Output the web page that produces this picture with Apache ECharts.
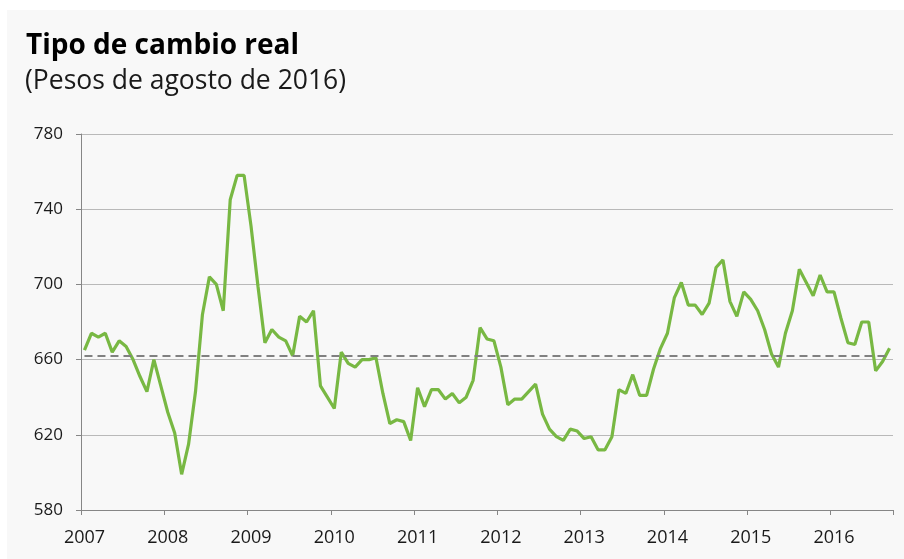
<!DOCTYPE html>
<html>
<head>
<meta charset="utf-8">
<script src="https://cdn.jsdelivr.net/npm/echarts@6/dist/echarts.min.js"></script>
<style>
  html, body { margin: 0; padding: 0; background: #ffffff; }
  #chart { width: 904px; height: 559px; }
</style>
</head>
<body>
<div id="chart"></div>
<script>
// años del eje (una etiqueta cada 12 meses)
const years = ['2007', '2008', '2009', '2010', '2011', '2012', '2013', '2014', '2015', '2016'];
const monthsInLastYear = 9;
// tipo de cambio real mensual, ene-2007 a sep-2016
const tcr = [
  665, 674, 672, 674, 664, 670, 667, 660, 651, 643, 660, 646,
  632, 621, 599, 615, 643, 684, 704, 700, 686, 745, 758, 758,
  731, 699, 669, 676, 672, 670, 662, 683, 680, 686, 646, 640,
  634, 664, 658, 656, 660, 660, 661, 642, 626, 628, 627, 617,
  645, 635, 644, 644, 639, 642, 637, 640, 649, 677, 671, 670,
  656, 636, 639, 639, 643, 647, 631, 623, 619, 617, 623, 622,
  618, 619, 612, 612, 619, 644, 642, 652, 641, 641, 655, 666,
  674, 693, 701, 689, 689, 684, 690, 709, 713, 691, 683, 696,
  692, 686, 676, 663, 656, 674, 686, 708, 701, 694, 705, 696,
  696, 682, 669, 668, 680, 680, 654, 659, 666
];
// promedio de referencia (línea punteada)
const promedio = 662;
const yTicks = [580, 620, 660, 700, 740, 780];

// categorías mensuales "AAAA-MM"
const months = [];
years.forEach((y, i) => {
  const n = i === years.length - 1 ? monthsInLastYear : 12;
  for (let m = 1; m <= n; m++) {
    months.push(y + '-' + (m < 10 ? '0' + m : m));
  }
});

const chart = echarts.init(document.getElementById('chart'));
const font = '"Open Sans", "Noto Sans", sans-serif';

chart.setOption({
  animation: false,
  backgroundColor: '#ffffff',
  graphic: [
    {
      type: 'rect',
      z: -10,
      shape: { x: 7, y: 10, width: 897, height: 549 },
      style: { fill: '#f8f8f8' }
    },
    {
      type: 'text',
      left: 26,
      top: 32,
      style: {
        text: 'Tipo de cambio real',
        font: 'bold 28px ' + font,
        fill: '#000000'
      }
    },
    {
      type: 'text',
      left: 25,
      top: 68,
      style: {
        text: '(Pesos de agosto de 2016)',
        font: '26.5px ' + font,
        fill: '#1a1a1a'
      }
    }
  ],
  grid: {
    left: 81,
    right: 11,
    top: 134,
    bottom: 49
  },
  xAxis: {
    type: 'category',
    data: months,
    boundaryGap: true,
    axisLine: { lineStyle: { color: '#868686', width: 1 } },
    axisTick: { show: true, interval: 11, length: 5, lineStyle: { color: '#868686' } },
    axisLabel: {
      interval: 11,
      margin: 19,
      color: '#1a1a1a',
      fontSize: 18,
      fontFamily: font,
      formatter: (v) => v.slice(0, 4)
    },
    splitLine: { show: false }
  },
  yAxis: {
    type: 'value',
    min: yTicks[0],
    max: yTicks[yTicks.length - 1],
    interval: 40,
    axisLine: { show: true, lineStyle: { color: '#868686', width: 1 } },
    axisTick: { show: true, length: 5, lineStyle: { color: '#868686' } },
    axisLabel: {
      margin: 18,
      color: '#1a1a1a',
      fontSize: 17,
      fontFamily: font
    },
    splitLine: { lineStyle: { color: '#b9b9b9', width: 1 } }
  },
  series: [
    {
      name: 'Tipo de cambio real',
      type: 'line',
      data: tcr,
      showSymbol: false,
      symbol: 'none',
      lineStyle: { color: '#78b843', width: 3.2 },
      markLine: {
        silent: true,
        symbol: 'none',
        label: { show: false },
        lineStyle: { color: '#808080', type: [8, 5], width: 2 },
        data: [
          [
            { coord: [months[0], promedio] },
            { coord: [months[months.length - 1], promedio] }
          ]
        ]
      }
    }
  ]
});
</script>
</body>
</html>
